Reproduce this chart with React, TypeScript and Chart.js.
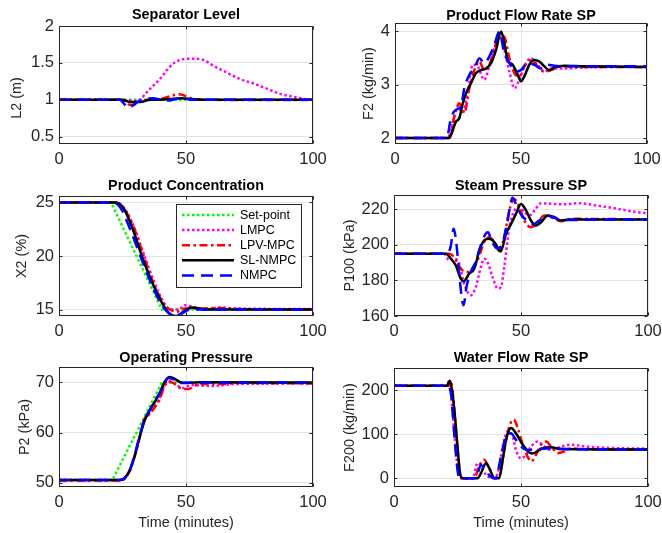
import React, { useEffect, useRef } from "react";
import { Chart, registerables } from "chart.js";

Chart.register(...registerables);

type Pt = [number, number];

// ---------------- tick labels ----------------
const X_TICKS = [0, 50, 100];
const L2_TICKS = [0.5, 1, 1.5, 2];
const F2_TICKS = [2, 3, 4];
const X2_TICKS = [15, 20, 25];
const P100_TICKS = [160, 180, 200, 220];
const P2_TICKS = [50, 60, 70];
const F200_TICKS = [0, 100, 200];

// ---------------- Separator Level L2 (m) ----------------
const L2_SP: Pt[] = [[0, 1], [100, 1]];
const L2_LMPC: Pt[] = [[0, 1], [24, 1], [27, 0.99], [30, 0.985], [31.8, 1.0], [34.5, 1.1], [37.1, 1.19], [39.7, 1.28], [42.4, 1.4], [45, 1.49], [47.6, 1.54], [51, 1.555], [54.2, 1.555], [56.8, 1.54], [60.8, 1.46], [66, 1.37], [71.3, 1.28], [76.6, 1.22], [81.8, 1.15], [87.1, 1.08], [92.4, 1.04], [97.6, 1.005], [100, 1.0]];
const L2_LPV: Pt[] = [[0, 1], [24, 1], [26, 0.97], [28, 0.93], [30, 0.94], [32, 0.98], [35, 1.0], [40, 1.01], [44, 1.05], [47, 1.075], [50, 1.05], [53, 1.01], [58, 1.0], [100, 0.995]];
const L2_SL: Pt[] = [[0, 1], [25, 1], [28, 0.97], [32, 0.97], [36, 1.0], [40, 1.0], [44, 1.01], [48, 1.02], [52, 1.01], [56, 1.0], [100, 1.0]];
const L2_NMPC: Pt[] = [[0, 1], [24, 1], [25.5, 0.95], [27.3, 0.89], [29, 0.92], [31, 0.97], [34, 1.01], [37, 1.02], [40, 1.0], [43, 0.99], [46, 1.01], [49, 1.02], [52, 1.0], [56, 1.0], [100, 1.0]];

// ---------------- Product Flow Rate SP F2 (kg/min) ----------------
const F2_LMPC: Pt[] = [[0, 2], [20.9, 2], [22.9, 2.28], [24.9, 2.59], [26.9, 2.47], [28.8, 2.84], [30.8, 3.37], [32.8, 3.34], [35.4, 3.09], [37.4, 3.34], [39.4, 3.68], [41.4, 3.89], [43.4, 3.65], [45.4, 3.24], [47.4, 2.93], [49.3, 3.09], [52, 3.4], [54, 3.49], [56.6, 3.37], [59.3, 3.24], [61.9, 3.3], [67.2, 3.3], [75, 3.32], [100, 3.33]];
const F2_LPV: Pt[] = [[0, 2], [21.6, 2], [23.5, 2.4], [25.5, 2.65], [27.5, 2.47], [29.5, 2.93], [31.5, 3.27], [33.5, 3.43], [35.4, 3.27], [37.4, 3.37], [39.4, 3.65], [41.4, 3.93], [43.4, 3.89], [45.4, 3.49], [47.4, 3.21], [49.3, 3.15], [51.3, 3.34], [54, 3.46], [56.6, 3.34], [59.3, 3.24], [61.9, 3.27], [65.9, 3.34], [75, 3.33], [100, 3.33]];
const F2_SL: Pt[] = [[0, 2], [21, 2], [22.2, 2.06], [24.2, 2.31], [25.5, 2.37], [26.9, 2.65], [28.2, 2.84], [30.2, 3.03], [32.1, 3.21], [34.1, 3.27], [36.1, 3.3], [38.1, 3.4], [40.1, 3.65], [42.1, 3.99], [43.4, 3.77], [44.7, 3.46], [46.7, 3.37], [48.7, 3.18], [50, 3.06], [51.3, 3.15], [53.3, 3.37], [55.3, 3.46], [57.3, 3.43], [59.3, 3.34], [61.2, 3.27], [63.2, 3.32], [67.2, 3.35], [75, 3.34], [100, 3.33]];
const F2_NMPC: Pt[] = [[0, 2], [20.5, 2], [22.2, 2.37], [24.2, 2.53], [26.2, 2.59], [27.5, 2.93], [29.5, 3.18], [31.5, 3.3], [33.5, 3.49], [35.4, 3.4], [37.4, 3.52], [39.4, 3.74], [41.4, 3.99], [43.4, 3.58], [45.4, 3.4], [48, 3.24], [50, 3.27], [52.6, 3.4], [55.3, 3.37], [57.9, 3.3], [60.6, 3.37], [63.2, 3.35], [70, 3.34], [100, 3.34]];

// ---------------- Product Concentration X2 (%) ----------------
const X2_SP: Pt[] = [[0, 25], [20.5, 25], [40.5, 15], [100, 15]];
const X2_LMPC: Pt[] = [[0, 25], [22, 25], [25.3, 24.6], [29.2, 22.9], [33.2, 20.3], [37.1, 17.8], [41.1, 15.7], [43.7, 15.0], [47, 15.0], [49.5, 15.4], [52, 15.3], [58, 15.0], [63, 15.2], [70, 15.1], [100, 15.05]];
const X2_LPV: Pt[] = [[0, 25], [22, 25], [25.3, 24.5], [29.2, 22.8], [33.2, 20.1], [37.1, 17.5], [41.1, 15.6], [43.7, 15.0], [46.3, 14.8], [49.5, 15.1], [55, 15.1], [62, 15.15], [70, 15.05], [100, 15.0]];
const X2_SL: Pt[] = [[0, 25], [22, 25], [25.3, 24.5], [29.2, 22.4], [33.2, 19.6], [37.1, 17.3], [41.1, 15.4], [43.7, 14.6], [46.3, 14.4], [48.9, 14.8], [52.2, 15.2], [54.2, 15.15], [58.2, 15.0], [100, 15.0]];
const X2_NMPC: Pt[] = [[0, 25], [21.3, 25], [24.2, 24.5], [28, 22.5], [32, 20.0], [36, 17.6], [40, 15.6], [43, 14.7], [45.5, 14.45], [48, 14.6], [51, 14.95], [55, 15.0], [100, 15.0]];

// ---------------- Steam Pressure SP P100 (kPa) ----------------
const P100_LMPC: Pt[] = [[0, 195], [19.7, 195], [21.7, 191.3], [23.7, 192.2], [25.7, 189.4], [27.6, 178.2], [30.3, 171.7], [32.2, 176.3], [34.2, 187.5], [35.5, 192.2], [36.8, 190.3], [38.8, 181.9], [40.8, 175.4], [42.1, 176.3], [43.4, 187.5], [45.4, 209.9], [47.4, 219.3], [49.3, 221.1], [51.3, 218.3], [53.3, 216.5], [55.3, 219.3], [57.9, 223.4], [60.5, 223.2], [67.1, 222.8], [72.4, 223.4], [80.3, 222], [88.2, 220.2], [96, 218.3], [100, 217.8]];
const P100_LPV: Pt[] = [[0, 195], [21.7, 195], [23.7, 193], [26.3, 186.6], [28.3, 184.7], [30.3, 185.7], [32.9, 191.3], [35.5, 201.5], [37.5, 204.3], [39.5, 201.5], [41.4, 196.5], [43.4, 204.3], [45.4, 219.3], [47.4, 225.8], [49.3, 221.1], [51.3, 213.7], [53.9, 209.9], [56.6, 212.7], [59.2, 216.5], [61.8, 215.5], [65.8, 213.3], [69.7, 214.6], [100, 214.3]];
const P100_SL: Pt[] = [[0, 195], [20.4, 195], [22.4, 192.2], [24.3, 188.5], [26.3, 181], [27.4, 179.5], [29.6, 183.8], [31.6, 186.6], [33.6, 196.9], [35.5, 202.5], [37.5, 203.4], [39.5, 201.5], [42, 196.3], [44.1, 206.2], [46.1, 211.8], [48, 217.4], [50, 223], [52, 219.3], [53.9, 213.7], [55.9, 210.9], [57.9, 212.7], [60.5, 216.5], [63.2, 215.5], [65.8, 213.7], [69.7, 214.2], [100, 214.3]];
const P100_NMPC: Pt[] = [[0, 195], [21, 195], [22.3, 199], [23.5, 209], [24.6, 200], [25.6, 185], [26.7, 170], [27.4, 166], [28.5, 176], [30, 184], [32, 190], [34, 199], [36, 206], [37, 207], [38.5, 202], [40.5, 198], [42.5, 200], [44.5, 212], [46.7, 226.5], [48.5, 221], [50.5, 216], [52.6, 213.7], [54.6, 211.5], [57.2, 213.7], [59.9, 216.5], [62.5, 215.5], [65.8, 214], [100, 214.3]];

// ---------------- Operating Pressure P2 (kPa) ----------------
const P2_SP: Pt[] = [[0, 50.5], [21, 50.5], [40.5, 70], [100, 70]];
const P2_LMPC: Pt[] = [[0, 50.5], [24, 50.5], [25.9, 50.9], [27.9, 52.5], [29.9, 55.5], [31.8, 59.2], [33.5, 62.6], [35.5, 63.8], [37.5, 65.2], [39.5, 66.8], [41.5, 69.4], [43, 70.3], [45, 70.0], [47, 69.3], [48.9, 68.9], [52, 69.5], [60, 69.3], [70, 69.7], [100, 69.8]];
const P2_LPV: Pt[] = [[0, 50.4], [24, 50.4], [25.9, 50.8], [27.9, 52.4], [29.9, 55.4], [31.8, 59.0], [33.5, 62.5], [35.5, 63.6], [37.5, 64.9], [39.5, 66.5], [41.5, 69.2], [43, 70.2], [45, 69.9], [47, 69.1], [48.9, 68.7], [50.9, 68.7], [54.2, 69.5], [58.2, 69.7], [65, 69.7], [70, 69.9], [100, 69.8]];
const P2_SL: Pt[] = [[0, 50.5], [24, 50.5], [25.9, 50.9], [27.9, 52.5], [29.9, 55.5], [31.8, 59.2], [33.8, 62.5], [35.8, 64.5], [37.8, 66.2], [39.7, 67.9], [41.7, 70.2], [43.7, 71.1], [45.7, 70.7], [47.6, 70.1], [50.3, 69.9], [55.5, 70.05], [100, 70]];
const P2_NMPC: Pt[] = [[0, 50.5], [24, 50.5], [25.9, 50.9], [27.9, 52.5], [29.9, 55.8], [31.8, 59.5], [33.8, 62.7], [35.8, 64.6], [37.8, 66.4], [39.7, 68.0], [41.7, 70.0], [43, 70.9], [45.7, 70.5], [48.3, 69.9], [52, 70.0], [100, 70]];

// ---------------- Water Flow Rate SP F200 (kg/min) ----------------
const F200_LMPC: Pt[] = [[0, 210], [20.4, 210], [21.7, 220], [23, 155], [24.3, 64], [25.7, 4], [26.5, 0], [30.9, 0], [32.9, 34], [34.2, 27], [36.2, 8], [38.8, 0], [40.8, 11], [42.8, 72], [44.7, 106], [46.7, 95], [48, 64], [50, 45], [52, 53], [54, 72], [56.6, 83], [59.2, 72], [61.8, 64], [65.8, 72], [69.7, 76], [75, 72], [80.3, 70], [88.2, 68], [100, 67]];
const F200_LPV: Pt[] = [[0, 210], [21.7, 210], [22.4, 222], [23.4, 178], [24.7, 87], [26.3, 4], [27, 0], [31.6, 0], [33.5, 27], [35.5, 42], [37.5, 23], [39.5, 0], [41.4, 4], [43.4, 64], [45.4, 117], [47.1, 133], [48.7, 114], [50.7, 76], [52.6, 49], [54, 38], [55.9, 53], [57.9, 76], [59.9, 83], [61.8, 72], [64.5, 57], [67.1, 61], [69.7, 68], [73.7, 66], [100, 65]];
const F200_SL: Pt[] = [[0, 210], [20.8, 210], [22, 221], [23, 193], [24, 140], [25, 72], [26, 11], [27, 0], [32.9, 0], [34.2, 11], [36.2, 34], [37.5, 23], [39.5, 0], [41.4, 0], [42.8, 42], [44.1, 87], [46.1, 114], [48, 102], [50.7, 76], [54.3, 56], [58.6, 68], [61.8, 70], [65.8, 66], [100, 65]];
const F200_NMPC: Pt[] = [[0, 210], [21, 210], [22.4, 193], [23.7, 102], [24.7, 34], [25.7, 0], [32.2, 0], [34.2, 30], [35.5, 23], [37.9, 4], [40.1, 0], [42.1, 49], [44.1, 95], [46, 102], [48, 87], [50, 72], [52.6, 64], [56.6, 66], [61.8, 68], [67, 66], [100, 65]];

// ---------------- styling ----------------
const FONT = '"Liberation Sans", Arial, Helvetica, sans-serif';
const AXIS_COLOR = "#262626";
const GRID_COLOR = "#e3e3e3";
const TICK_FONT = 16.5;
const LABEL_FONT = 14.4;
const TITLE_FONT = 14.4;
const LEGEND_FONT = 12.5;
const Y_W = 50;
const X_H = 24;

const STYLES: Record<string, { label: string; color: string; dash: number[]; width: number; order: number }> = {
  sp: { label: "Set-point", color: "#00ff00", dash: [2.5, 2.5], width: 2.5, order: 4 },
  lmpc: { label: "LMPC", color: "#ff00ff", dash: [2.5, 2.5], width: 2.5, order: 3 },
  lpv: { label: "LPV-MPC", color: "#ff0000", dash: [8, 3.5, 2.5, 3.5], width: 2.5, order: 2 },
  sl: { label: "SL-NMPC", color: "#000000", dash: [], width: 2.5, order: 1 },
  nmpc: { label: "NMPC", color: "#0000ff", dash: [12, 7], width: 2.5, order: 0 },
};
const LEGEND_KEYS = ["sp", "lmpc", "lpv", "sl", "nmpc"];

type Panel = {
  title: string;
  ylabel: string;
  yMin: number;
  yMax: number;
  yTicks: number[];
  series: Record<string, Pt[]>;
  canvas: { x: number; y: number; w: number; h: number };
  area: { l: number; r: number; t: number; b: number };
  titleY: number;
  yLabelX: number;
  yLabelY?: number;
  xlabel?: boolean;
  legend?: boolean;
};

const PANELS: Panel[] = [
  {
    title: "Separator Level", ylabel: "L2 (m)", yMin: 0.4, yMax: 2, yTicks: L2_TICKS,
    series: { sp: L2_SP, lmpc: L2_LMPC, lpv: L2_LPV, sl: L2_SL, nmpc: L2_NMPC },
    canvas: { x: 0, y: 0, w: 331, h: 170 }, area: { l: 59, r: 313, t: 26, b: 144 },
    titleY: 19, yLabelX: 17, yLabelY: 98,
  },
  {
    title: "Product Flow Rate SP", ylabel: "F2 (kg/min)", yMin: 1.89, yMax: 4.15, yTicks: F2_TICKS,
    series: { lmpc: F2_LMPC, lpv: F2_LPV, sl: F2_SL, nmpc: F2_NMPC },
    canvas: { x: 331, y: 0, w: 331, h: 170 }, area: { l: 395, r: 647, t: 23, b: 144 },
    titleY: 19.5, yLabelX: 369.5,
  },
  {
    title: "Product Concentration", ylabel: "X2 (%)", yMin: 14.4, yMax: 25.6, yTicks: X2_TICKS,
    series: { sp: X2_SP, lmpc: X2_LMPC, lpv: X2_LPV, sl: X2_SL, nmpc: X2_NMPC },
    canvas: { x: 0, y: 170, w: 331, h: 180 }, area: { l: 59, r: 313, t: 196, b: 316 },
    titleY: 190, yLabelX: 22.5, legend: true,
  },
  {
    title: "Steam Pressure SP", ylabel: "P100 (kPa)", yMin: 160, yMax: 228, yTicks: P100_TICKS,
    series: { lmpc: P100_LMPC, lpv: P100_LPV, sl: P100_SL, nmpc: P100_NMPC },
    canvas: { x: 331, y: 170, w: 331, h: 180 }, area: { l: 394, r: 648, t: 195, b: 316 },
    titleY: 189.5, yLabelX: 349.8,
  },
  {
    title: "Operating Pressure", ylabel: "P2 (kPa)", yMin: 49.1, yMax: 73.1, yTicks: P2_TICKS,
    series: { sp: P2_SP, lmpc: P2_LMPC, lpv: P2_LPV, sl: P2_SL, nmpc: P2_NMPC },
    canvas: { x: 0, y: 350, w: 331, h: 183 }, area: { l: 59, r: 313, t: 367, b: 487 },
    titleY: 362, yLabelX: 25.3, xlabel: true,
  },
  {
    title: "Water Flow Rate SP", ylabel: "F200 (kg/min)", yMin: -20, yMax: 250, yTicks: F200_TICKS,
    series: { lmpc: F200_LMPC, lpv: F200_LPV, sl: F200_SL, nmpc: F200_NMPC },
    canvas: { x: 331, y: 350, w: 331, h: 183 }, area: { l: 394, r: 648, t: 368, b: 487 },
    titleY: 362, yLabelX: 349.8, xlabel: true,
  },
];

function makeDecor(p: Panel) {
  return {
    id: "decor",
    afterDraw(chart: any) {
      const ctx: CanvasRenderingContext2D = chart.ctx;
      const a = chart.chartArea;
      const ox = p.canvas.x;
      const oy = p.canvas.y;
      ctx.save();
      // box
      ctx.strokeStyle = AXIS_COLOR;
      ctx.lineWidth = 1;
      ctx.setLineDash([]);
      const L = Math.round(a.left) + 0.5;
      const R = Math.round(a.right) - 0.5;
      const T = Math.round(a.top) + 0.5;
      const B = Math.round(a.bottom) - 0.5;
      ctx.strokeRect(L, T, R - L, B - T);
      // inner tick marks
      const xs = chart.scales.x;
      const ys = chart.scales.y;
      ctx.beginPath();
      for (const v of X_TICKS) {
        const px = Math.round(xs.getPixelForValue(v)) + 0.5;
        ctx.moveTo(px, B);
        ctx.lineTo(px, B - 3);
        ctx.moveTo(px, T);
        ctx.lineTo(px, T + 3);
      }
      for (const v of p.yTicks) {
        const py = Math.round(ys.getPixelForValue(v)) + 0.5;
        ctx.moveTo(L, py);
        ctx.lineTo(L + 3, py);
        ctx.moveTo(R, py);
        ctx.lineTo(R - 3, py);
      }
      ctx.stroke();

      const cx = (a.left + a.right) / 2;
      // title
      ctx.fillStyle = "#000000";
      ctx.font = `bold ${TITLE_FONT}px ${FONT}`;
      ctx.textAlign = "center";
      ctx.textBaseline = "alphabetic";
      ctx.fillText(p.title, cx, p.titleY - oy);

      // y label
      ctx.fillStyle = AXIS_COLOR;
      ctx.font = `${LABEL_FONT}px ${FONT}`;
      ctx.save();
      const ly = p.yLabelY !== undefined ? p.yLabelY - oy : (a.top + a.bottom) / 2;
      ctx.translate(p.yLabelX - ox, ly);
      ctx.rotate(-Math.PI / 2);
      ctx.textAlign = "center";
      ctx.textBaseline = "middle";
      ctx.fillText(p.ylabel, 0, 0);
      ctx.restore();

      // x label
      if (p.xlabel) {
        ctx.textAlign = "center";
        ctx.textBaseline = "middle";
        ctx.fillText("Time (minutes)", cx, 523 - oy);
      }

      // legend
      if (p.legend) {
        const bx = 176 - ox;
        const by = 204 - oy;
        const bw = 125;
        const bh = 83;
        ctx.fillStyle = "#ffffff";
        ctx.fillRect(bx, by, bw, bh);
        ctx.strokeStyle = AXIS_COLOR;
        ctx.lineWidth = 1;
        ctx.strokeRect(bx + 0.5, by + 0.5, bw, bh);
        ctx.font = `${LEGEND_FONT}px ${FONT}`;
        ctx.textAlign = "left";
        ctx.textBaseline = "middle";
        LEGEND_KEYS.forEach((k, i) => {
          const s = STYLES[k];
          const ry = 215 - oy + i * 15.1;
          ctx.strokeStyle = s.color;
          ctx.lineWidth = s.width;
          ctx.setLineDash(s.dash);
          ctx.beginPath();
          ctx.moveTo(182 - ox, ry);
          ctx.lineTo(234 - ox, ry);
          ctx.stroke();
          ctx.setLineDash([]);
          ctx.fillStyle = "#000000";
          ctx.fillText(s.label, 240 - ox, ry + 0.5);
        });
      }
      ctx.restore();
    },
  };
}

function PanelChart({ p }: { p: Panel }) {
  const ref = useRef<HTMLCanvasElement>(null);
  useEffect(() => {
    const c = p.canvas;
    const a = p.area;
    const padLeft = a.l - c.x - Y_W;
    const padRight = c.x + c.w - a.r;
    const padTop = a.t - c.y;
    const padBottom = c.y + c.h - a.b - X_H;
    const datasets = Object.keys(p.series).map((k) => {
      const s = STYLES[k];
      return {
        label: s.label,
        data: p.series[k].map(([x, y]) => ({ x, y })),
        borderColor: s.color,
        backgroundColor: s.color,
        borderWidth: s.width,
        borderDash: s.dash,
        borderCapStyle: "butt" as const,
        pointRadius: 0,
        fill: false,
        cubicInterpolationMode: k === "sp" ? ("default" as const) : ("monotone" as const),
        tension: 0,
        order: s.order,
      };
    });
    const tickStyle = { family: FONT, size: TICK_FONT };
    const chart = new Chart(ref.current as HTMLCanvasElement, {
      type: "line",
      data: { datasets },
      options: {
        animation: false,
        responsive: false,
        devicePixelRatio: 1,
        events: [],
        layout: { padding: { left: padLeft, right: padRight, top: padTop, bottom: padBottom } },
        plugins: { legend: { display: false }, title: { display: false }, tooltip: { enabled: false } },
        scales: {
          x: {
            type: "linear",
            min: 0,
            max: 100,
            afterBuildTicks: (sc: any) => {
              sc.ticks = X_TICKS.map((v) => ({ value: v }));
            },
            afterFit: (sc: any) => {
              sc.height = X_H;
              sc.paddingLeft = 0;
              sc.paddingRight = 0;
            },
            ticks: {
              callback: (v: any) => String(v),
              font: tickStyle,
              color: AXIS_COLOR,
              padding: 6,
              autoSkip: false,
              maxRotation: 0,
              minRotation: 0,
            },
            grid: { color: GRID_COLOR, drawTicks: false, lineWidth: 1 },
            border: { display: false },
          },
          y: {
            type: "linear",
            min: p.yMin,
            max: p.yMax,
            afterBuildTicks: (sc: any) => {
              sc.ticks = p.yTicks.map((v) => ({ value: v }));
            },
            afterFit: (sc: any) => {
              sc.width = Y_W;
              sc.paddingTop = 0;
              sc.paddingBottom = 0;
            },
            ticks: {
              callback: (v: any) => String(v),
              font: tickStyle,
              color: AXIS_COLOR,
              padding: 5,
              autoSkip: false,
            },
            grid: { color: GRID_COLOR, drawTicks: false, lineWidth: 1 },
            border: { display: false },
          },
        },
      } as any,
      plugins: [makeDecor(p)],
    });
    return () => chart.destroy();
  }, [p]);
  return (
    <div style={{ position: "absolute", left: p.canvas.x, top: p.canvas.y, width: p.canvas.w, height: p.canvas.h }}>
      <canvas ref={ref} width={p.canvas.w} height={p.canvas.h} style={{ width: p.canvas.w, height: p.canvas.h, display: "block" }} />
    </div>
  );
}

export default function App() {
  return (
    <div style={{ position: "absolute", left: 0, top: 0, width: 662, height: 533, background: "#ffffff", overflow: "hidden" }}>
      {PANELS.map((p, i) => (
        <PanelChart key={i} p={p} />
      ))}
    </div>
  );
}
